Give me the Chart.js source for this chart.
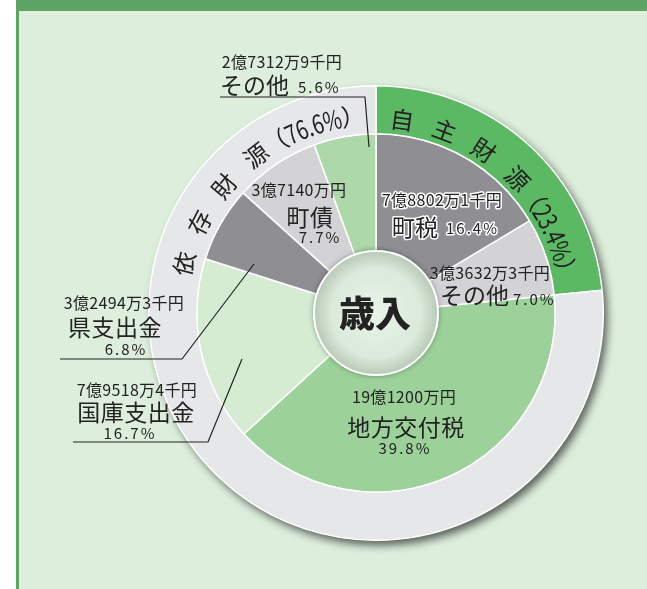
<!DOCTYPE html>
<html lang="ja">
<head>
<meta charset="utf-8">
<script src="https://cdn.jsdelivr.net/npm/chart.js@4"></script>
<style>
html, body { margin: 0; padding: 0; background: #fff; overflow: hidden; }
#frame { position: absolute; left: 16px; top: 0; width: 640px; height: 589px; box-sizing: border-box;
  border-top: 11px solid #5da363; border-left: 3px solid #5da363; background: #ddeedc; }
#chart { position: absolute; left: 0; top: 0; }
</style>
</head>
<body>
<div id="frame"></div>
<canvas id="chart" width="647" height="589"></canvas>
<script>
// outer ring: funding groups
var groupLabels = ['自主財源', '依存財源'];
var groupValues = [23.4, 76.6];

// inner ring: revenue items (clockwise from top)
var itemLabels = ['町税', 'その他', '地方交付税', '国庫支出金', '県支出金', '町債', 'その他'];
var itemValues = [16.4, 7.0, 39.8, 16.7, 6.8, 7.7, 5.6];
var itemAmounts = ['7億8802万1千円', '3億3632万3千円', '19億1200万円', '7億9518万4千円', '3億2494万3千円', '3億7140万円', '2億7312万9千円'];

var centerTitle = '歳入';

var groupColors = ['#5cb963', '#e6e7e9'];
var itemColors = ['#8e8e93', '#d3d3d6', '#9cd29a', '#d5ecd3', '#8e8e93', '#d3d3d6', '#acd8aa'];

var FONT = '"Noto Sans CJK JP", "Noto Sans", sans-serif';

// label placement, offsets from the donut centre
var itemLayout = [
  { inline: true, amt: [66, -113], name: [16, -86], pct: [70, -85], halo: true },
  { inline: true, amt: [114, -40], name: [64, -18], pct: [137, -14] },
  { amt: [28, 84], name: [30, 114], pct: [29, 135] },
  { amt: [-239, 77], name: [-240, 99], pct: [-246, 120], line: [[-303, 129], [-168, 129], [-134, 46]] },
  { amt: [-252, -10], name: [-261, 14], pct: [-250, 36], line: [[-316, 46], [-194, 46], [-122, -49]] },
  { amt: [-77, -123], name: [-66, -96], pct: [-56, -76] },
  { inline: true, amt: [-94, -251], name: [-156, -228], pct: [-78, -226], line: [[-156, -216], [-11, -216], [-7, -166]] }
];

// curved group titles: start angle (deg clockwise from top), radius
var groupLayout = [
  { start: 4.2, r: 195 },
  { start: -79, r: 198 }
];

function txt(ctx, s, x, y, size, align, weight, spacing, halo) {
  ctx.save();
  ctx.font = (weight || 400) + ' ' + size + 'px ' + FONT;
  ctx.textAlign = align || 'center';
  ctx.textBaseline = 'middle';
  ctx.letterSpacing = (spacing || 0) + 'px';
  if (halo) {
    ctx.strokeStyle = '#fff';
    ctx.lineWidth = 3;
    ctx.lineJoin = 'round';
    ctx.strokeText(s, x, y);
  }
  ctx.fillStyle = '#222';
  ctx.fillText(s, x, y);
  ctx.restore();
}

// glyph-by-glyph text along a circle; ascii glyphs drawn condensed
function arcText(ctx, cx, cy, r, startDeg, parts) {
  var a = startDeg * Math.PI / 180;
  ctx.save();
  ctx.fillStyle = '#222';
  ctx.textAlign = 'center';
  ctx.textBaseline = 'middle';
  parts.forEach(function (p) {
    var chars = Array.from(p.text);
    chars.forEach(function (ch, k) {
      var narrow = ch.charCodeAt(0) < 128;
      var sx = narrow ? 0.78 : 1;
      ctx.font = '400 ' + (narrow ? 26 : 24) + 'px ' + FONT;
      var w = ctx.measureText(ch).width * sx;
      a += (w / 2) / r;
      ctx.save();
      ctx.translate(cx + r * Math.sin(a), cy - r * Math.cos(a));
      ctx.rotate(a);
      ctx.scale(sx, 1);
      ctx.fillText(ch, 0, 0);
      ctx.restore();
      a += (w / 2 + (k < chars.length - 1 ? p.gap : 0)) / r;
    });
  });
  ctx.restore();
}

var decorPlugin = {
  id: 'decor',
  beforeDatasetsDraw: function (chart) {
    var arc = chart.getDatasetMeta(0).data[0];
    var ctx = chart.ctx;
    ctx.save();
    ctx.shadowColor = 'rgba(0,0,0,0.6)';
    ctx.shadowBlur = 9;
    ctx.shadowOffsetX = 4;
    ctx.shadowOffsetY = 5;
    ctx.fillStyle = groupColors[1];
    ctx.beginPath();
    ctx.arc(arc.x, arc.y, arc.outerRadius, 0, Math.PI * 2);
    ctx.fill();
    ctx.restore();
  },
  afterDatasetsDraw: function (chart) {
    var ctx = chart.ctx;
    var inner = chart.getDatasetMeta(1).data[0];
    var cx = inner.x, cy = inner.y, hr = inner.innerRadius;

    // centre hole
    ctx.save();
    var g = ctx.createRadialGradient(cx, cy, 0, cx, cy, hr);
    g.addColorStop(0, '#e8f3e7');
    g.addColorStop(0.72, '#dbeada');
    g.addColorStop(1, '#b9c9b8');
    ctx.shadowColor = 'rgba(0,0,0,0.45)';
    ctx.shadowBlur = 6;
    ctx.fillStyle = g;
    ctx.beginPath();
    ctx.arc(cx, cy, hr, 0, Math.PI * 2);
    ctx.fill();
    ctx.shadowColor = 'transparent';
    ctx.strokeStyle = '#fff';
    ctx.lineWidth = 2;
    ctx.stroke();
    ctx.restore();
    txt(ctx, centerTitle, cx - 1, cy, 36, 'center', 900);

    // curved group titles
    groupLabels.forEach(function (name, i) {
      var L = groupLayout[i];
      arcText(ctx, cx, cy, L.r, L.start, [
        { text: name, gap: 20 },
        { text: '（' + groupValues[i].toFixed(1) + '%）', gap: 0 }
      ]);
    });

    // item labels + leader lines
    itemLabels.forEach(function (name, i) {
      var L = itemLayout[i];
      if (L.line) {
        ctx.save();
        ctx.strokeStyle = '#222';
        ctx.lineWidth = 1.2;
        ctx.beginPath();
        L.line.forEach(function (p, k) {
          if (k === 0) ctx.moveTo(cx + p[0], cy + p[1]);
          else ctx.lineTo(cx + p[0], cy + p[1]);
        });
        ctx.stroke();
        ctx.restore();
      }
      var pct = itemValues[i].toFixed(1) + '%';
      txt(ctx, itemAmounts[i], cx + L.amt[0], cy + L.amt[1], 16, 'center', 400, 0.3, L.halo);
      if (L.inline) {
        txt(ctx, name, cx + L.name[0], cy + L.name[1], 23, 'left', 400, 0, L.halo);
        txt(ctx, pct, cx + L.pct[0], cy + L.pct[1], 15, 'left', 400, 2, L.halo);
      } else {
        txt(ctx, name, cx + L.name[0], cy + L.name[1], 23, 'center', 400, 0.5, L.halo);
        txt(ctx, pct, cx + L.pct[0], cy + L.pct[1], 15, 'center', 400, 2, L.halo);
      }
    });
  }
};

var chart = new Chart(document.getElementById('chart'), {
  type: 'doughnut',
  data: {
    labels: itemLabels,
    datasets: [
      {
        label: '財源',
        data: groupValues,
        backgroundColor: groupColors,
        borderColor: '#fff',
        borderWidth: 1.5,
        weight: 48
      },
      {
        label: '歳入',
        data: itemValues,
        backgroundColor: itemColors,
        borderColor: '#fff',
        borderWidth: 1.5,
        weight: 117
      }
    ]
  },
  options: {
    animation: false,
    responsive: false,
    cutout: 62,
    layout: { padding: { left: 148, top: 85, right: 43, bottom: 48 } },
    plugins: {
      legend: { display: false },
      tooltip: { enabled: false }
    }
  },
  plugins: [decorPlugin]
});
</script>
</body>
</html>
